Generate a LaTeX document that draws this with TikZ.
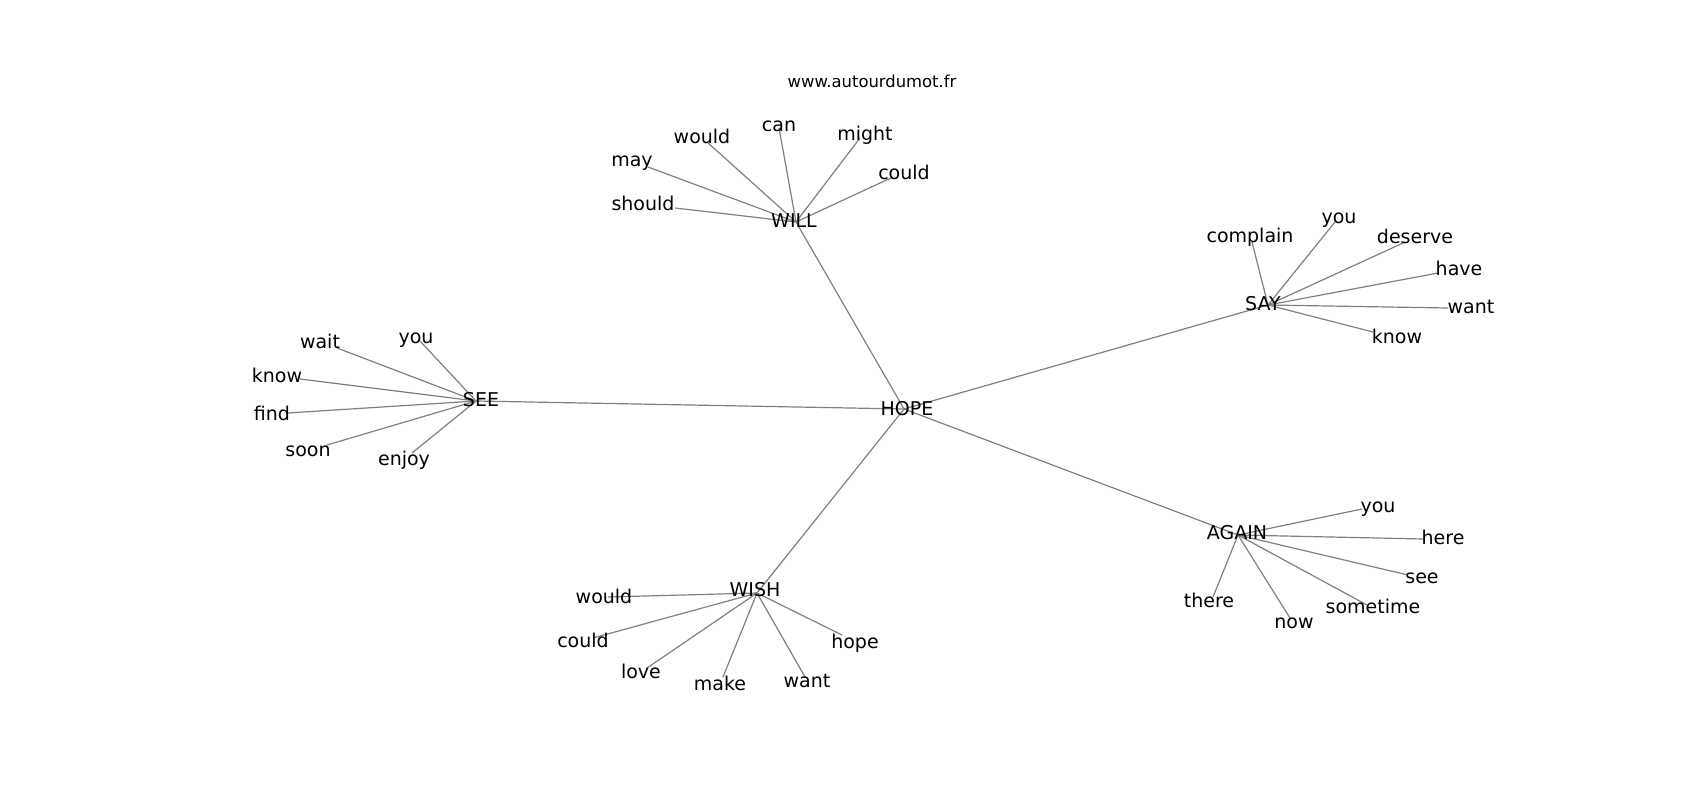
\documentclass[tikz,border=0pt]{standalone}
\usepackage{fontspec}
\setmainfont{DejaVu Sans}
\begin{document}
\begin{tikzpicture}[x=1pt,y=-1pt,
  lbl/.style={font=\fontsize{19}{19}\selectfont, inner sep=0pt, anchor=base, text=black},
  url/.style={font=\fontsize{16.4}{16.4}\selectfont, inner sep=0pt, anchor=base, text=black},
  edge/.style={draw=black!50, line width=1.2pt}]
\useasboundingbox[fill=white] (0,0) rectangle (1700,800);
% points
\coordinate (hope) at (904,409);
\coordinate (will) at (796,222);
\coordinate (see) at (476,401);
\coordinate (say) at (1268,305);
\coordinate (again) at (1238,535);
\coordinate (wish) at (757,593);
% WILL leaves
\coordinate (will-can) at (779,128);
\coordinate (will-would) at (707,142);
\coordinate (will-might) at (860,138);
\coordinate (will-may) at (648,167);
\coordinate (will-could) at (893,177);
\coordinate (will-should) at (675,208);
% SAY leaves
\coordinate (say-complain) at (1252,242);
\coordinate (say-you) at (1335,222);
\coordinate (say-deserve) at (1403,243);
\coordinate (say-have) at (1438,273);
\coordinate (say-want) at (1448,308);
\coordinate (say-know) at (1373,332);
% SEE leaves
\coordinate (see-you) at (420,341);
\coordinate (see-wait) at (337,348);
\coordinate (see-know) at (300,379);
\coordinate (see-find) at (288,413);
\coordinate (see-soon) at (327,445);
\coordinate (see-enjoy) at (412,453);
% WISH leaves
\coordinate (wish-would) at (608,597);
\coordinate (wish-could) at (593,638);
\coordinate (wish-love) at (647,668);
\coordinate (wish-make) at (723,677);
\coordinate (wish-want) at (805,677);
\coordinate (wish-hope) at (842,635);
% AGAIN leaves
\coordinate (again-you) at (1362,509);
\coordinate (again-here) at (1423,539);
\coordinate (again-see) at (1408,575);
\coordinate (again-sometime) at (1367,605);
\coordinate (again-now) at (1290,618);
\coordinate (again-there) at (1213,597);
% edges
\foreach \a in {will,see,say,again,wish} \draw[edge] (hope) -- (\a);
\foreach \b in {can,would,might,may,could,should} \draw[edge] (will) -- (will-\b);
\foreach \b in {complain,you,deserve,have,want,know} \draw[edge] (say) -- (say-\b);
\foreach \b in {you,wait,know,find,soon,enjoy} \draw[edge] (see) -- (see-\b);
\foreach \b in {would,could,love,make,want,hope} \draw[edge] (wish) -- (wish-\b);
\foreach \b in {you,here,see,sometime,now,there} \draw[edge] (again) -- (again-\b);
% labels
\node[url] (t-url) at (872,88) {www.autourdumot.fr};
\node[lbl] (t-hope) at (907,415) {HOPE};
\node[lbl] (t-will) at (794,227) {WILL};
\node[lbl] (t-see) at (481,406) {SEE};
\node[lbl] (t-say) at (1263,310) {SAY};
\node[lbl] (t-again) at (1237,539) {AGAIN};
\node[lbl] (t-wish) at (755,596) {WISH};
\node[lbl] (t-will-can) at (779,131) {can};
\node[lbl] (t-will-would) at (702,143) {would};
\node[lbl] (t-will-might) at (865,140) {might};
\node[lbl] (t-will-may) at (632,166) {may};
\node[lbl] (t-will-could) at (904,179) {could};
\node[lbl] (t-will-should) at (643,210) {should};
\node[lbl] (t-say-complain) at (1250,242) {complain};
\node[lbl] (t-say-you) at (1339,223) {you};
\node[lbl] (t-say-deserve) at (1415,243) {deserve};
\node[lbl] (t-say-have) at (1459,275) {have};
\node[lbl] (t-say-want) at (1471,313) {want};
\node[lbl] (t-say-know) at (1397,343) {know};
\node[lbl] (t-see-you) at (416,343) {you};
\node[lbl] (t-see-wait) at (320,348) {wait};
\node[lbl] (t-see-know) at (277,382) {know};
\node[lbl] (t-see-find) at (272,420) {find};
\node[lbl] (t-see-soon) at (308,456) {soon};
\node[lbl] (t-see-enjoy) at (404,465) {enjoy};
\node[lbl] (t-wish-would) at (604,603) {would};
\node[lbl] (t-wish-could) at (583,647) {could};
\node[lbl] (t-wish-love) at (641,678) {love};
\node[lbl] (t-wish-make) at (720,690) {make};
\node[lbl] (t-wish-want) at (807,687) {want};
\node[lbl] (t-wish-hope) at (855,648) {hope};
\node[lbl] (t-again-you) at (1378,512) {you};
\node[lbl] (t-again-here) at (1443,544) {here};
\node[lbl] (t-again-see) at (1422,583) {see};
\node[lbl] (t-again-sometime) at (1373,613) {sometime};
\node[lbl] (t-again-now) at (1294,628) {now};
\node[lbl] (t-again-there) at (1209,607) {there};
\end{tikzpicture}
\end{document}
